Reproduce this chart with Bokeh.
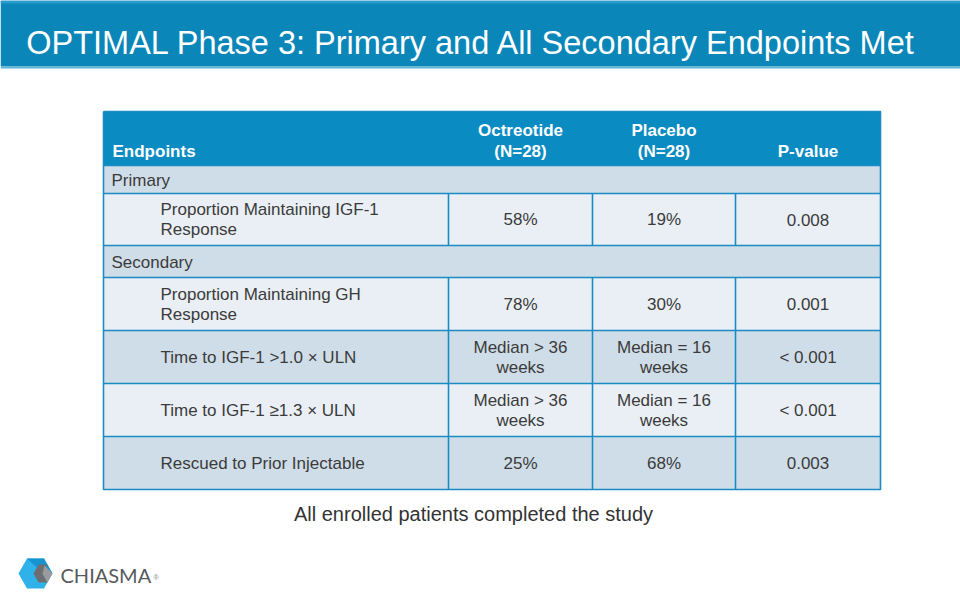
from bokeh.plotting import figure
from bokeh.models import Range1d, ColumnDataSource
from bokeh.embed import file_html
from bokeh.resources import INLINE
from bokeh.core.properties import value

# ---------------- data ----------------
title = "OPTIMAL Phase 3: Primary and All Secondary Endpoints Met"
col_headers = ["Endpoints", "Octreotide\n(N=28)", "Placebo\n(N=28)", "P-value"]
row_kinds = ["section", "data", "section", "data", "data", "data", "data"]
endpoints = ["Primary",
             "Proportion Maintaining IGF-1\nResponse",
             "Secondary",
             "Proportion Maintaining GH\nResponse",
             "Time to IGF-1 >1.0 \u00d7 ULN",
             "Time to IGF-1 \u22651.3 \u00d7 ULN",
             "Rescued to Prior Injectable"]
octreotide = ["", "58%", "", "78%", "Median > 36\nweeks", "Median > 36\nweeks", "25%"]
placebo = ["", "19%", "", "30%", "Median = 16\nweeks", "Median = 16\nweeks", "68%"]
pvalues = ["", "0.008", "", "0.001", "< 0.001", "< 0.001", "0.003"]
footnote = "All enrolled patients completed the study"

# ---------------- layout (page pixel coordinates) ----------------
FONT = value("Liberation Sans")
col_edges = [103, 448, 592, 735, 880]
header_top, header_bot = 111, 165
row_heights = [28, 52, 32, 53, 53, 53, 53]
row_fill_data = ["#cfdde8", "#e9eff5", "#cfdde8", "#e9eff5", "#cfdde8", "#e9eff5", "#cfdde8"]
border = "#1a8bc3"
text_col = "#3b3b3b"

p = figure(width=960, height=600, output_backend="svg", toolbar_location=None,
           x_range=Range1d(0, 960), y_range=Range1d(600, 0), min_border=0,
           background_fill_color="white", border_fill_color="white")
p.axis.visible = False
p.grid.visible = False
p.outline_line_color = None

# Title band
p.quad(left=[0], right=[960], top=[0], bottom=[66], fill_color="#0a86b8", line_color=None)
p.quad(left=[0], right=[960], top=[0], bottom=[3], fill_color="#2a9acb", line_color=None)
p.quad(left=[0], right=[960], top=[66], bottom=[68], fill_color="#5fb3d8", line_color=None)
p.text(x=[471], y=[42], text=[title], text_color="white", text_font=FONT,
       text_font_size="32.5px", text_align="center", text_baseline="middle")

# Header
p.quad(left=[col_edges[0]], right=[col_edges[-1]], top=[header_top], bottom=[header_bot],
       fill_color="#0a8bc2", line_color=None)
hx = [112, (col_edges[1] + col_edges[2]) / 2, (col_edges[2] + col_edges[3]) / 2,
      (col_edges[3] + col_edges[4]) / 2]
halign = ["left", "center", "center", "center"]
for x, al, h in zip(hx, halign, col_headers):
    lines = h.split("\n")
    n = len(lines)
    for i, ln in enumerate(lines):
        y = 151 - (n - 1 - i) * 21
        p.text(x=[x], y=[y], text=[ln], text_color="white", text_font=FONT,
               text_font_size="17px", text_font_style="bold", text_align=al,
               text_baseline="middle")

# Body rows
tops = []
y = header_bot
for h in row_heights:
    tops.append(y)
    y += h
bottom = y

src = ColumnDataSource(dict(
    left=[col_edges[0]] * len(tops), right=[col_edges[-1]] * len(tops),
    top=tops, bottom=[t + h for t, h in zip(tops, row_heights)], color=row_fill_data))
p.quad(left="left", right="right", top="top", bottom="bottom", fill_color="color",
       line_color=None, source=src)

def put_text(x, yc, txt, align):
    lines = txt.split("\n")
    n = len(lines)
    for i, ln in enumerate(lines):
        yy = yc + (i - (n - 1) / 2) * 20
        p.text(x=[x], y=[yy], text=[ln], text_color=text_col, text_font=FONT,
               text_font_size="17px", text_align=align, text_baseline="middle")

for k, (kind, t, h) in enumerate(zip(row_kinds, tops, row_heights)):
    yc = t + h / 2
    if kind == "section":
        put_text(111, yc + 0.5, endpoints[k], "left")
    else:
        put_text(160, yc, endpoints[k], "left")
        put_text(hx[1], yc, octreotide[k], "center")
        put_text(hx[2], yc, placebo[k], "center")
        put_text(hx[3], yc, pvalues[k], "center")

# Grid lines
xs, ys = [], []
for t in tops[1:] + [header_bot]:
    xs.append([col_edges[0], col_edges[-1]]); ys.append([t, t])
for k, (kind, t, h) in enumerate(zip(row_kinds, tops, row_heights)):
    if kind == "data":
        for cx in col_edges[1:-1]:
            xs.append([cx, cx]); ys.append([t, t + h])
# outer border
xs.append([col_edges[0], col_edges[-1], col_edges[-1], col_edges[0], col_edges[0]])
ys.append([header_top, header_top, bottom, bottom, header_top])
p.multi_line(xs=xs, ys=ys, line_color=border, line_width=1.6)

# Footnote
p.text(x=[473], y=[513], text=[footnote], text_color="#333333", text_font=FONT,
       text_font_size="20px", text_align="center", text_baseline="middle")

# Logo
p.patch(x=[18, 26.5, 43.5, 52, 43.5, 26.5], y=[573, 558, 558, 573, 588, 588],
        fill_color="#2fb2ea", line_color=None)
p.patch(x=[26.5, 43.5, 52, 35], y=[558, 558, 573, 566], fill_color="#1793cf", line_color=None)
p.patch(x=[38, 47, 42, 47, 38, 33], y=[564, 564, 573, 582, 582, 573],
        fill_color="#6d6e71", line_color=None)
p.patch(x=[44, 52, 52, 47, 42], y=[565, 573, 573, 582, 573], fill_color="#9a9b9d",
        line_color=None)
p.text(x=[60], y=[574], text=["CHIASMA"], text_color="#58595b", text_font=value("Lato"),
       text_font_size="20px", text_align="left", text_baseline="middle")
p.text(x=[153], y=[577], text=["\u00ae"], text_color="#8a8a8a", text_font=FONT,
       text_font_size="7px", text_align="left", text_baseline="middle")

open("out.html", "w").write(file_html(p, INLINE))
